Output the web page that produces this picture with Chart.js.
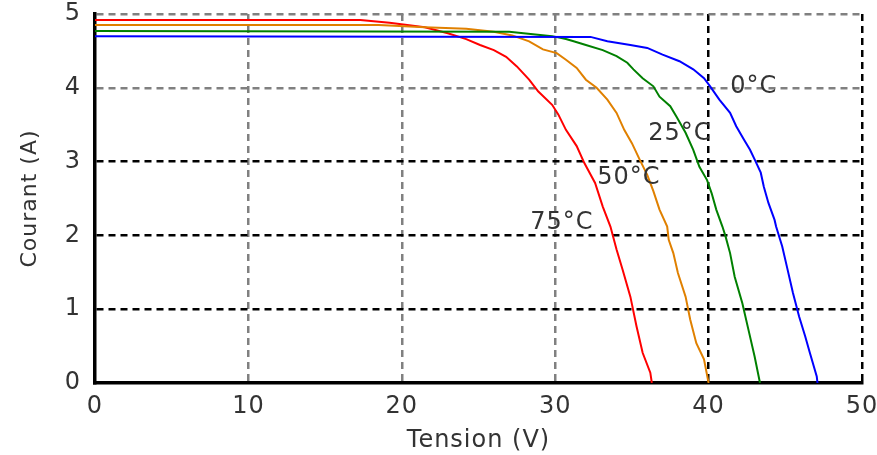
<!DOCTYPE html>
<html>
<head>
<meta charset="utf-8">
<script src="https://cdn.jsdelivr.net/npm/chart.js@4/dist/chart.umd.min.js"></script>
<style>
  html, body { margin: 0; padding: 0; background: #fff; }
  #wrap { width: 877px; height: 455px; }
</style>
</head>
<body>
<div id="wrap"><canvas id="iv"></canvas></div>
<script>
"use strict";

// ── data ─────────────────────────────────────────────────────────────────────
const volts0 = [0, 32.3, 33.4, 34.9, 36.0, 37.0, 38.1, 39.0, 39.7, 40.1, 40.7, 41.4, 41.8, 42.3, 42.7, 43.0, 43.4, 43.6, 43.9, 44.3, 44.4, 44.8, 45.1, 45.5, 45.9, 46.3, 46.6, 47.05, 47.1];
const amps0  = [4.70, 4.69, 4.63, 4.58, 4.54, 4.45, 4.36, 4.25, 4.13, 4.02, 3.84, 3.66, 3.48, 3.30, 3.16, 3.03, 2.85, 2.66, 2.44, 2.21, 2.12, 1.85, 1.58, 1.22, 0.90, 0.63, 0.41, 0.09, 0];

const volts25 = [0, 27.0, 29.8, 30.7, 31.2, 32.0, 33.1, 34.0, 34.7, 35.1, 35.7, 36.4, 36.8, 37.5, 37.9, 38.5, 39.0, 39.4, 39.9, 40.2, 40.5, 40.9, 41.1, 41.4, 41.7, 42.2, 42.6, 43.0, 43.35];
const amps25  = [4.77, 4.76, 4.70, 4.66, 4.63, 4.58, 4.51, 4.43, 4.34, 4.25, 4.13, 4.02, 3.88, 3.75, 3.61, 3.39, 3.16, 2.93, 2.75, 2.57, 2.35, 2.12, 1.99, 1.76, 1.44, 1.08, 0.72, 0.36, 0];

const volts50 = [0, 18.5, 21.5, 24.2, 26.0, 27.2, 28.3, 29.2, 30.1, 30.7, 31.4, 32.0, 32.7, 33.4, 34.0, 34.5, 35.0, 35.5, 36.0, 36.4, 36.8, 37.3, 37.4, 37.7, 38.0, 38.5, 38.8, 39.2, 39.7, 40.0];
const amps50  = [4.85, 4.85, 4.82, 4.80, 4.76, 4.71, 4.63, 4.52, 4.47, 4.38, 4.27, 4.11, 4.00, 3.84, 3.66, 3.43, 3.25, 3.03, 2.82, 2.60, 2.35, 2.12, 1.94, 1.76, 1.49, 1.17, 0.86, 0.54, 0.32, 0];

const volts75 = [0, 17.3, 19.2, 21.5, 23.0, 24.2, 25.1, 26.0, 26.8, 27.5, 28.3, 28.9, 29.8, 30.2, 30.7, 31.4, 31.9, 32.6, 33.1, 33.6, 34.0, 34.4, 34.9, 35.3, 35.7, 36.2, 36.3];
const amps75  = [4.92, 4.92, 4.88, 4.82, 4.74, 4.66, 4.58, 4.51, 4.42, 4.29, 4.11, 3.95, 3.77, 3.64, 3.43, 3.21, 2.98, 2.71, 2.39, 2.12, 1.81, 1.53, 1.17, 0.77, 0.41, 0.14, 0];

// curve labels, anchored in data units (V, A)
const labelText  = ["0°C", "25°C", "50°C", "75°C"];
const labelVolts = [42.95, 38.13, 34.8, 30.43];
const labelAmps  = [4.01, 3.38, 2.78, 2.17];

// ── helpers ──────────────────────────────────────────────────────────────────
const pts = (xs, ys) => xs.map((x, i) => ({ x, y: ys[i] }));
const GREY = "#808080";
const FONT = "'DejaVu Sans', sans-serif";

const curve = (label, xs, ys, color) => ({
  label, data: pts(xs, ys),
  borderColor: color, borderWidth: 2,
  pointRadius: 0, tension: 0, fill: false,
});

const spacing = {
  id: "spacing",
  beforeDraw(chart) { chart.ctx.letterSpacing = "1px"; },
};

const curveLabels = {
  id: "curveLabels",
  afterDatasetsDraw(chart) {
    const { ctx, scales: { x, y } } = chart;
    ctx.save();
    ctx.font = `24px ${FONT}`;
    ctx.fillStyle = "#333";
    ctx.textAlign = "center";
    ctx.textBaseline = "middle";
    labelText.forEach((t, i) => {
      ctx.fillText(t, x.getPixelForValue(labelVolts[i]), y.getPixelForValue(labelAmps[i]));
    });
    ctx.restore();
  },
};

// ── chart ────────────────────────────────────────────────────────────────────
new Chart(document.getElementById("iv"), {
  type: "line",
  data: {
    datasets: [
      curve("0°C", volts0, amps0, "#0000ff"),
      curve("25°C", volts25, amps25, "#008000"),
      curve("50°C", volts50, amps50, "#e08000"),
      curve("75°C", volts75, amps75, "#ff0000"),
    ],
  },
  options: {
    responsive: true,
    maintainAspectRatio: false,
    animation: false,
    layout: { padding: { top: 14, right: 15, left: 0, bottom: 0 } },
    plugins: { legend: { display: false }, tooltip: { enabled: false } },
    scales: {
      x: {
        type: "linear", min: 0, max: 50,
        afterFit: s => { s.height = 72; s.paddingLeft = 0; s.paddingRight = 0; },
        ticks: { stepSize: 10, padding: 9, color: "#333", font: { family: FONT, size: 24 } },
        grid: {
          drawTicks: false, lineWidth: 2.5,
          color: c => c.tick.value === 0 ? "transparent" : (c.tick.value >= 40 ? "#000" : GREY),
        },
        border: { color: "#000", width: 3.5, dash: [7, 5] },
        title: {
          display: true, text: "Tension (V)", color: "#333",
          font: { family: FONT, size: 24 }, padding: { top: 0, bottom: 0 },
        },
      },
      y: {
        type: "linear", min: 0, max: 5,
        afterFit: s => { s.width = 95; s.paddingTop = 0; s.paddingBottom = 0; },
        ticks: { stepSize: 1, padding: 14, color: "#333", font: { family: FONT, size: 24 } },
        grid: {
          drawTicks: false, lineWidth: 2.5,
          color: c => c.tick.value === 0 ? "transparent" : (c.tick.value <= 3 ? "#000" : GREY),
        },
        border: { color: "#000", width: 3.5, dash: [7, 5] },
        title: {
          display: true, text: "Courant (A)", color: "#333",
          font: { family: FONT, size: 22 }, padding: { top: 17, bottom: 0 },
        },
      },
    },
  },
  plugins: [spacing, curveLabels],
});
</script>
</body>
</html>
